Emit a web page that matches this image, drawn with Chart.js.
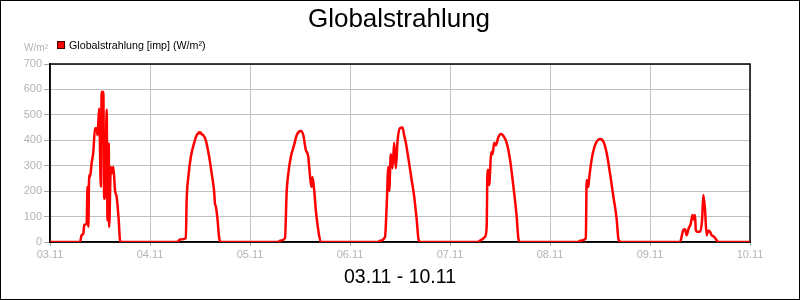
<!DOCTYPE html>
<html>
<head>
<meta charset="utf-8">
<script src="https://cdn.jsdelivr.net/npm/chart.js@4.4.1/dist/chart.umd.min.js"></script>
<style>
  html, body { margin: 0; padding: 0; background: #fff; }
  #wrap { position: relative; width: 800px; height: 300px; }
  canvas { display: block; }
</style>
</head>
<body>
<div id="wrap"><canvas id="c" width="800" height="300"></canvas></div>
<script>
// ---- data ----
const chartTitle = 'Globalstrahlung';
const periodLabel = '03.11 - 10.11';
const seriesName = 'Globalstrahlung [imp] (W/m²)';
const unitLabel = 'W/m²';
const dayLabels = ['03.11', '04.11', '05.11', '06.11', '07.11', '08.11', '09.11', '10.11'];
const yMin = 0, yMax = 700, yStep = 100;

// hours elapsed since 03.11 00:00
const hoursSinceStart = [
  0,
  7.2, 7.6, 8.0, 8.2, 8.8, 9.0, 9.2, 9.4, 9.6, 10.0, 10.4, 10.8, 11.2, 11.4, 11.8, 12.2, 12.4, 12.8, 13.0, 13.3, 13.6, 13.8, 14.1, 14.2, 14.6, 14.8, 15.2, 15.6, 16.0, 16.5, 16.8, 17.2,
  30.5, 31.2, 32.6, 32.8, 33.2, 33.8, 34.6, 35.2, 35.6, 35.8, 36.0, 36.2, 36.4, 36.8, 37.4, 38.2, 38.8, 39.4, 39.6, 39.8, 40.2, 40.6, 41.0,
  54.7, 55.2, 56.4, 56.8, 57.2, 57.8, 58.6, 59.2, 60.2, 60.8, 61.4, 62.0, 62.2, 62.8, 63.0, 63.4, 63.8, 64.4, 65.0,
  78.7, 79.2, 80.4, 80.8, 81.2, 81.4, 81.8, 82.2, 82.6, 83.0, 83.4, 84.0, 84.6, 85.0, 85.4, 86.0, 86.8, 87.4, 87.6, 88.0, 88.4, 88.8,
  102.7, 103.2, 104.4, 104.8, 105.0, 105.2, 105.4, 105.8, 106.0, 106.2, 106.6, 107.0, 107.6, 108.2, 108.8, 109.6, 110.4, 111.2, 112.0, 112.4, 112.8,
  126.7, 127.2, 128.6, 128.8, 129.2, 129.4, 130.0, 130.6, 131.2, 132.0, 132.8, 133.6, 134.4, 135.2, 136.0, 136.4, 137.0,
  151.2, 152.0, 152.4, 152.8, 153.2, 153.8, 154.2, 154.6, 154.8, 155.0, 155.4, 156.0, 156.5, 156.8, 157.2, 157.6, 158.0, 158.4, 158.8, 159.4, 160.0, 160.4,
  168
];
const globalstrahlung = [
  0,
  0, 27, 33, 67, 73, 217, 60, 263, 256, 310, 355, 447, 447, 420, 525, 217, 590, 590, 170, 217, 520, 85, 387, 60, 295, 270, 295, 203, 177, 85, 7, 0,
  0, 10, 15, 165, 256, 335, 390, 420, 428, 432, 427, 431, 424, 420, 400, 335, 270, 197, 150, 140, 90, 15, 0,
  0, 5, 15, 197, 270, 335, 382, 420, 437, 420, 362, 335, 295, 217, 256, 205, 126, 45, 0,
  0, 5, 20, 140, 295, 200, 345, 290, 390, 290, 395, 448, 450, 420, 390, 330, 244, 180, 150, 90, 15, 0,
  0, 5, 20, 60, 283, 283, 224, 335, 355, 345, 390, 380, 412, 425, 418, 390, 325, 220, 100, 15, 0,
  0, 5, 15, 244, 217, 250, 325, 370, 395, 405, 395, 350, 270, 180, 90, 15, 0,
  0, 47, 50, 27, 50, 73, 106, 87, 106, 47, 40, 40, 87, 185, 126, 27, 45, 40, 27, 20, 7, 0,
  0
];

// ---- chart ----
const FONT = '"Liberation Sans", Arial, sans-serif';
Chart.defaults.font.family = FONT;

const decor = {
  id: 'decor',
  beforeDatasetsDraw(chart) {
    const { ctx, chartArea: a } = chart;
    ctx.save();
    ctx.strokeStyle = '#000';
    ctx.lineWidth = 1.5;
    ctx.strokeRect(a.left, a.top, a.right - a.left, a.bottom - a.top);
    ctx.restore();
  },
  afterDraw(chart) {
    const { ctx } = chart;
    ctx.save();
    // outer frame
    ctx.strokeStyle = '#000';
    ctx.lineWidth = 1;
    ctx.strokeRect(0.5, 0.5, 799, 299);
    // title
    ctx.fillStyle = '#000';
    ctx.textAlign = 'center';
    ctx.textBaseline = 'alphabetic';
    ctx.font = '26px ' + FONT;
    ctx.fillText(chartTitle, 399, 27);
    // period
    ctx.font = '19.5px ' + FONT;
    ctx.fillText(periodLabel, 400, 283);
    // unit
    ctx.fillStyle = '#b4b4b4';
    ctx.textAlign = 'right';
    ctx.font = '10px ' + FONT;
    ctx.fillText(unitLabel, 48, 51);
    // legend
    ctx.fillStyle = '#ff0000';
    ctx.fillRect(57, 41, 8, 8);
    ctx.strokeStyle = '#400000';
    ctx.lineWidth = 1;
    ctx.strokeRect(57.5, 41.5, 7, 7);
    ctx.fillStyle = '#000';
    ctx.textAlign = 'left';
    ctx.font = '10.7px ' + FONT;
    ctx.fillText(seriesName, 69, 49);
    ctx.restore();
  }
};

new Chart(document.getElementById('c'), {
  type: 'line',
  data: {
    datasets: [{
      label: seriesName,
      data: hoursSinceStart.map((h, i) => ({ x: h, y: globalstrahlung[i] })),
      borderColor: '#ff0000',
      backgroundColor: '#ff0000',
      borderWidth: 2.5,
      pointRadius: 0,
      cubicInterpolationMode: 'monotone',
      fill: false
    }]
  },
  options: {
    responsive: false,
    animation: false,
    devicePixelRatio: 1,
    layout: { padding: { left: 0, right: 50, top: 64, bottom: 0 } },
    plugins: {
      legend: { display: false },
      title: { display: false },
      tooltip: { enabled: false }
    },
    scales: {
      x: {
        type: 'linear',
        min: 0,
        max: (dayLabels.length - 1) * 24,
        afterFit(s) { s.height = 58; },
        afterBuildTicks(s) {
          s.ticks = dayLabels.map((_, i) => ({ value: i * 24 }));
        },
        ticks: {
          color: '#b4b4b4',
          font: { size: 11 },
          padding: 2,
          maxRotation: 0,
          autoSkip: false,
          callback: (v) => dayLabels[Math.round(v / 24)]
        },
        grid: { color: '#c0c0c0', tickColor: '#a8a8a8', tickLength: 4, lineWidth: 1 },
        border: { color: '#000', width: 1.5 }
      },
      y: {
        min: yMin,
        max: yMax,
        afterFit(s) { s.width = 50; },
        ticks: {
          stepSize: yStep,
          color: '#b4b4b4',
          font: { size: 11 },
          padding: 2
        },
        grid: { color: '#c0c0c0', tickColor: '#a8a8a8', tickLength: 6, lineWidth: 1 },
        border: { color: '#000', width: 1.5 }
      }
    }
  },
  plugins: [decor]
});
</script>
</body>
</html>
